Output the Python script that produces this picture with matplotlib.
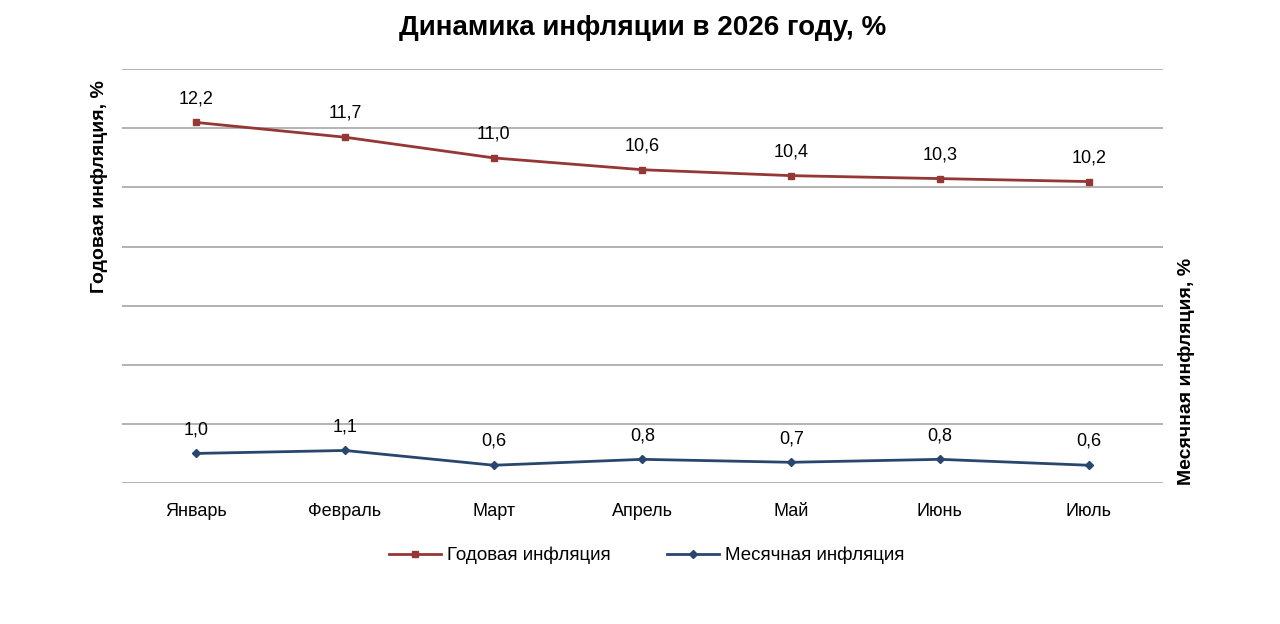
import numpy as np
import matplotlib.pyplot as plt

plt.rcParams['font.family'] = ['Liberation Sans', 'DejaVu Sans']

months = ["Январь", "Февраль", "Март", "Апрель", "Май", "Июнь", "Июль"]
annual = [12.2, 11.7, 11.0, 10.6, 10.4, 10.3, 10.2]
monthly = [1.0, 1.1, 0.6, 0.8, 0.7, 0.8, 0.6]

red = "#953735"
blue = "#28466e"
grid = "#a6a6a6"

fig = plt.figure(figsize=(12.8, 6.24), dpi=100)
ax = fig.add_axes([0.0953, 0.226, 0.8133, 0.663])
ax2 = ax.twinx()

x = np.arange(len(months))
l1, = ax.plot(x, annual, color=red, lw=2, marker="s", ms=5, label="Годовая инфляция")
l2, = ax2.plot(x, monthly, color=blue, lw=2, marker="D", ms=4.5, label="Месячная инфляция")

for a in (ax, ax2):
    a.set_ylim(0, 14)
    a.set_xlim(-0.5, len(months) - 0.5)
    for s in a.spines.values():
        s.set_visible(False)
    a.tick_params(left=False, right=False, bottom=False, labelleft=False, labelright=False)

ax.set_yticks(np.arange(0, 15, 2))
ax.yaxis.grid(True, color=grid, lw=1.2)
ax.set_axisbelow(True)
ax.set_xticks(x)
ax.set_xticklabels(months, fontsize=13)
ax.tick_params(axis="x", pad=11)

for xi, v in zip(x, annual):
    ax.annotate(f"{v:.1f}".replace(".", ","), (xi, v), xytext=(0, 11), textcoords="offset points",
                ha="center", va="bottom", fontsize=13)
for xi, v in zip(x, monthly):
    ax2.annotate(f"{v:.1f}".replace(".", ","), (xi, v), xytext=(0, 11), textcoords="offset points",
                 ha="center", va="bottom", fontsize=13)

fig.text(0.502, 0.955, "Динамика инфляции в 2026 году, %", ha="center", va="center",
         fontsize=20, fontweight="bold")
fig.text(0.078, 0.701, "Годовая инфляция, %", rotation=90, ha="center", va="center",
         fontsize=14, fontweight="bold")
fig.text(0.927, 0.405, "Месячная инфляция, %", rotation=90, ha="center", va="center",
         fontsize=14, fontweight="bold")

fig.legend(handles=[l1, l2], loc="center", bbox_to_anchor=(0.505, 0.11), ncol=2, frameon=False,
           fontsize=13.5, handlelength=2.8, columnspacing=3, handletextpad=0.3)

fig.savefig("out.png", dpi=100, facecolor="white")
